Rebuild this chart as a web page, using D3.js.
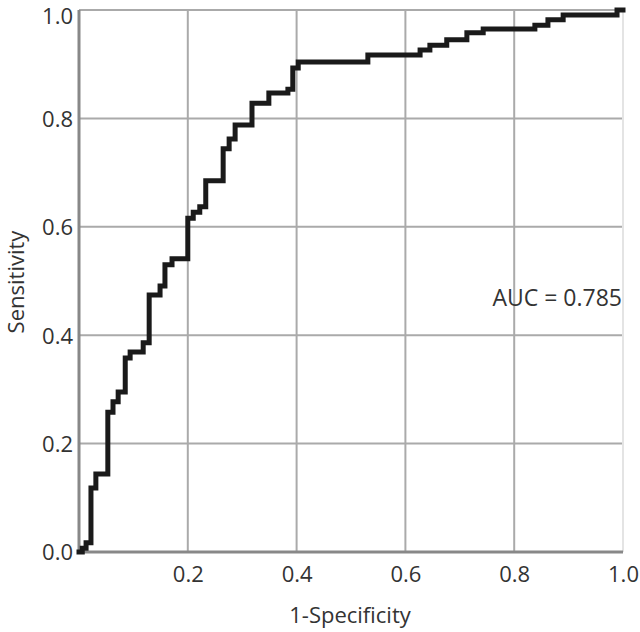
<!DOCTYPE html>
<html>
<head>
<meta charset="utf-8">
<script src="https://cdn.jsdelivr.net/npm/d3@7"></script>
<style>
  body { margin: 0; background: #fff; }
  text { font-family: "Open Sans", "Noto Sans", sans-serif; fill: #333; }
</style>
</head>
<body>
<script>
// ROC curve corners (1-specificity, sensitivity)
var fpr = [0, 0.006, 0.013, 0.022, 0.031, 0.053, 0.0625, 0.072, 0.085, 0.094,
  0.118, 0.129, 0.149, 0.158, 0.171, 0.200, 0.210, 0.222, 0.233, 0.265,
  0.276, 0.287, 0.318, 0.349, 0.384, 0.393, 0.403, 0.531, 0.627, 0.645,
  0.676, 0.713, 0.743, 0.838, 0.862, 0.890, 0.989, 1.0]
var tpr = [0, 0.007, 0.017, 0.118, 0.144, 0.258, 0.277, 0.295, 0.358, 0.369,
  0.386, 0.474, 0.491, 0.530, 0.541, 0.616, 0.627, 0.637, 0.685, 0.744,
  0.762, 0.788, 0.828, 0.847, 0.854, 0.893, 0.904, 0.917, 0.926, 0.935,
  0.945, 0.958, 0.965, 0.972, 0.982, 0.991, 1.0, 1.0]
var xTicks = [0.2, 0.4, 0.6, 0.8, 1.0]
var yTicks = [0.0, 0.2, 0.4, 0.6, 0.8, 1.0]
var aucLabel = "AUC = 0.785"

var width = 640, height = 632
var margin = { top: 10, right: 17, bottom: 80, left: 79 }
var innerW = width - margin.left - margin.right
var innerH = height - margin.top - margin.bottom
var fontSize = 22

var svg = d3.select("body").append("svg")
  .attr("width", width)
  .attr("height", height)

var g = svg.append("g")
  .attr("transform", "translate(" + margin.left + "," + margin.top + ")")

var x = d3.scaleLinear().domain([0, 1]).range([0, innerW])
var y = d3.scaleLinear().domain([0, 1]).range([innerH, 0])

// grid
g.selectAll(".hgrid")
  .data(yTicks.filter((d) => d > 0))
  .enter().append("line")
  .attr("x1", 0).attr("x2", innerW)
  .attr("y1", (d) => y(d)).attr("y2", (d) => y(d))
  .attr("stroke", "#aaa")
  .attr("stroke-width", 2)

g.selectAll(".vgrid")
  .data(xTicks)
  .enter().append("line")
  .attr("x1", (d) => x(d)).attr("x2", (d) => x(d))
  .attr("y1", 0).attr("y2", innerH)
  .attr("stroke", (d) => d == 1 ? "#e4e4e4" : "#aaa")
  .attr("stroke-width", 2)

// axes lines
g.append("line")
  .attr("x1", 0).attr("x2", 0)
  .attr("y1", 0).attr("y2", innerH)
  .attr("stroke", "#888")
  .attr("stroke-width", 3)
g.append("line")
  .attr("x1", 0).attr("x2", innerW)
  .attr("y1", innerH).attr("y2", innerH)
  .attr("stroke", "#888")
  .attr("stroke-width", 3)

// tick labels
var xAxis = g.append("g")
  .attr("transform", "translate(0," + innerH + ")")
  .call(d3.axisBottom(x).tickValues(xTicks).tickFormat(d3.format(".1f")).tickSize(0).tickPadding(14))
var yAxis = g.append("g")
  .call(d3.axisLeft(y).tickValues(yTicks).tickFormat(d3.format(".1f")).tickSize(0).tickPadding(6))
xAxis.select(".domain").remove()
yAxis.select(".domain").remove()
g.selectAll(".tick text")
  .attr("font-size", fontSize)
  .attr("font-family", "Open Sans, Noto Sans, sans-serif")
  .attr("fill", "#333")
yAxis.selectAll(".tick text").attr("dy", "0.36em")
// top label sits a little lower so it stays inside the page
yAxis.selectAll(".tick text").filter((d) => d == 1).attr("dy", "0.6em")

// roc curve
var pts = fpr.map((d, i) => [d, tpr[i]])
var line = d3.line()
  .x((d) => x(d[0]))
  .y((d) => y(d[1]))
  .curve(d3.curveStepAfter)

g.append("path")
  .datum(pts)
  .attr("d", line)
  .attr("fill", "none")
  .attr("stroke", "#1a1a1a")
  .attr("stroke-width", 5)
  .attr("stroke-linejoin", "miter")
  .attr("stroke-linecap", "square")

// labels
g.append("text")
  .attr("x", x(1) - 1)
  .attr("y", y(0.47))
  .attr("dy", "0.36em")
  .attr("text-anchor", "end")
  .attr("font-size", 23)
  .text(aucLabel)

svg.append("text")
  .attr("x", margin.left + innerW / 2 - 1)
  .attr("y", 623)
  .attr("text-anchor", "middle")
  .attr("font-size", fontSize)
  .text("1-Specificity")

svg.append("text")
  .attr("transform", "translate(24," + (margin.top + innerH / 2 + 1) + ") rotate(-90)")
  .attr("text-anchor", "middle")
  .attr("font-size", fontSize)
  .text("Sensitivity")
</script>
</body>
</html>
